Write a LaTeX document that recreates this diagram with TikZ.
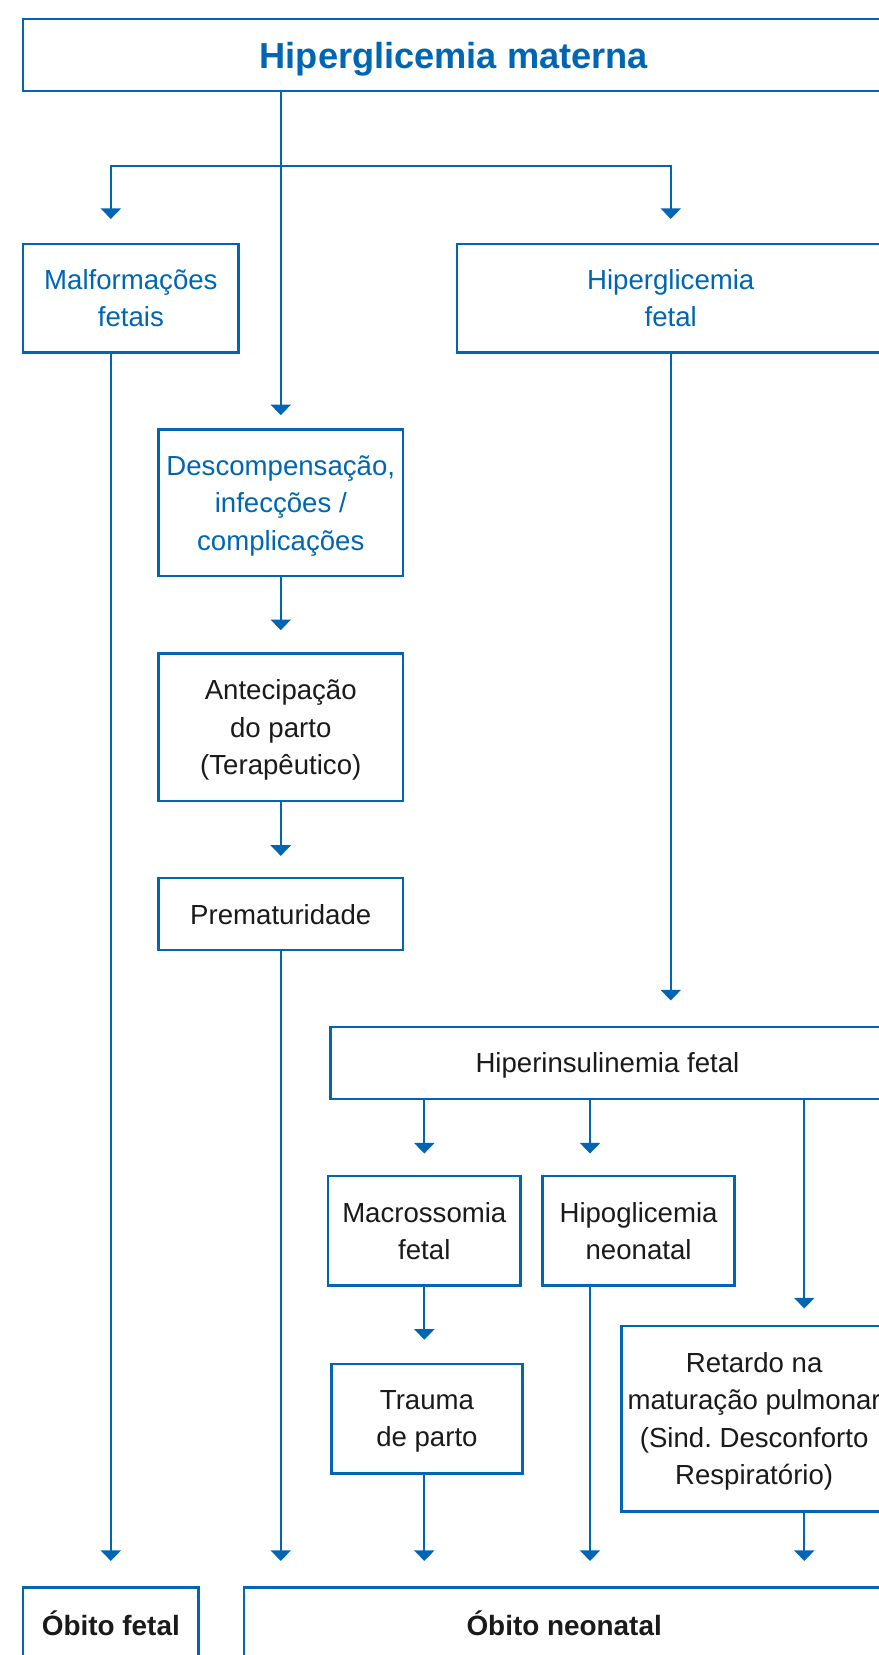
\documentclass[tikz,border=0pt]{standalone}
\usepackage{fontspec}
\setmainfont{Liberation Sans}
\usetikzlibrary{arrows.meta,positioning,calc}
\definecolor{cBlue}{HTML}{0066B3}
\definecolor{cInk}{HTML}{1A1A1A}
\tikzset{
  every picture/.style={line width=0.7pt},
  box/.style={draw=cBlue, fill=white, line width=0.8pt, align=center, inner sep=2pt,
              text=cInk, text depth=0pt, font={\fontsize{9.3}{12.55}\selectfont}},
  bbox/.style={box, text=cBlue},
  kbox/.style={box, font={\fontsize{9.4}{12.55}\selectfont\bfseries}},
  flow/.style={-{Triangle[length=3.6pt,width=6.8pt]}, draw=cBlue, shorten >=0.26cm},
}

\begin{document}
\begin{tikzpicture}[x=1cm,y=1cm]

\useasboundingbox (0,0) rectangle (10.4,-19.6);

\def\rA{-3.53125}
\def\rB{-14.575}
\def\rC{-16.8}
\def\rD{-19.21875}

% ---------------------------------------------------------------- top
\node[bbox, minimum width=10.2cm, minimum height=0.85cm,
      font={\fontsize{12.2}{14}\selectfont\bfseries}] (hmat) at (5.375,-0.65) {Hiperglicemia materna};

\node[bbox, minimum width=2.55cm, minimum height=1.2875cm] (malf) at (1.55,\rA) {Malformações\\ fetais};
\node[bbox, minimum width=5.0625cm, minimum height=1.2875cm] (hfet) at (7.94375,\rA) {Hiperglicemia\\ fetal};

% ---------------------------------------------------------------- middle column
\node[bbox, minimum width=2.9cm, minimum height=1.7375cm] (desc) at (3.325,-5.95625)
     {Descompensação,\\ infecções /\\ complicações};
\node[box, minimum width=2.9cm, minimum height=1.75cm] (ante) at (3.325,-8.6125)
     {Antecipação\\ do parto\\ (Terapêutico)};
\node[box, minimum width=2.9cm, minimum height=0.85cm] (prem) at (3.325,-10.825) {Prematuridade};

% ---------------------------------------------------------------- right side
\node[box, minimum width=6.5625cm, minimum height=0.85cm] (hins) at (7.19375,-12.5875) {Hiperinsulinemia fetal};
\node[box, minimum width=2.275cm, minimum height=1.3cm] (macr) at (5.025,\rB) {Macrossomia\\ fetal};
\node[box, minimum width=2.275cm, minimum height=1.3cm] (hipo) at (7.5625,\rB) {Hipoglicemia\\ neonatal};
\node[box, minimum width=2.2625cm, minimum height=1.3cm] (trau) at (5.05625,\rC) {Trauma\\ de parto};
\node[box, minimum width=3.0875cm, minimum height=2.2cm] (reta) at (8.93125,\rC)
     {Retardo na\\ maturação pulmonar\\ (Sind.\ Desconforto\\ Respiratório)};

% ---------------------------------------------------------------- outcomes
\node[kbox, minimum width=2.075cm, minimum height=0.8375cm] (ofet) at (1.3125,\rD) {Óbito fetal};
\node[kbox, minimum width=7.5875cm, minimum height=0.8375cm] (oneo) at (6.68125,\rD) {Óbito neonatal};

% ---------------------------------------------------------------- connectors
\coordinate (fork) at (3.325,-1.9625);
\coordinate (cL) at (1.3125,0);
\coordinate (cH) at (6.9875,0);
\coordinate (cS) at (9.525,0);

\draw[flow, shorten >=0.156cm] (hmat.south -| desc) -- (desc.north);
\draw[flow, shorten >=0.28cm] (fork) -| (cL |- malf.north);
\draw[flow, shorten >=0.28cm] (fork) -| (hfet.north);

\draw[flow] (desc.south) -- (ante.north);
\draw[flow, shorten >=0.25cm] (ante.south) -- (prem.north);

\draw[flow, shorten >=0.3cm] (hfet.south) -- (hfet.south |- hins.north);
\draw[flow, shorten >=0.25cm] (hins.south -| macr) -- (macr.north);
\draw[flow, shorten >=0.25cm] (hins.south -| cH) -- (cH |- hipo.north);
\draw[flow, shorten >=0.19cm] (hins.south -| cS) -- (cS |- reta.north);
\draw[flow, shorten >=0.27cm] (macr.south) -- (macr.south |- trau.north);

\draw[flow, shorten >=0.3cm] (malf.south -| cL) -- (ofet.north);
\draw[flow, shorten >=0.3cm] (prem.south) -- (prem.south |- oneo.north);
\draw[flow, shorten >=0.3cm] (trau.south -| macr) -- (macr |- oneo.north);
\draw[flow, shorten >=0.3cm] (hipo.south -| cH) -- (cH |- oneo.north);
\draw[flow, shorten >=0.3cm] (reta.south -| cS) -- (cS |- oneo.north);

\end{tikzpicture}
\end{document}
